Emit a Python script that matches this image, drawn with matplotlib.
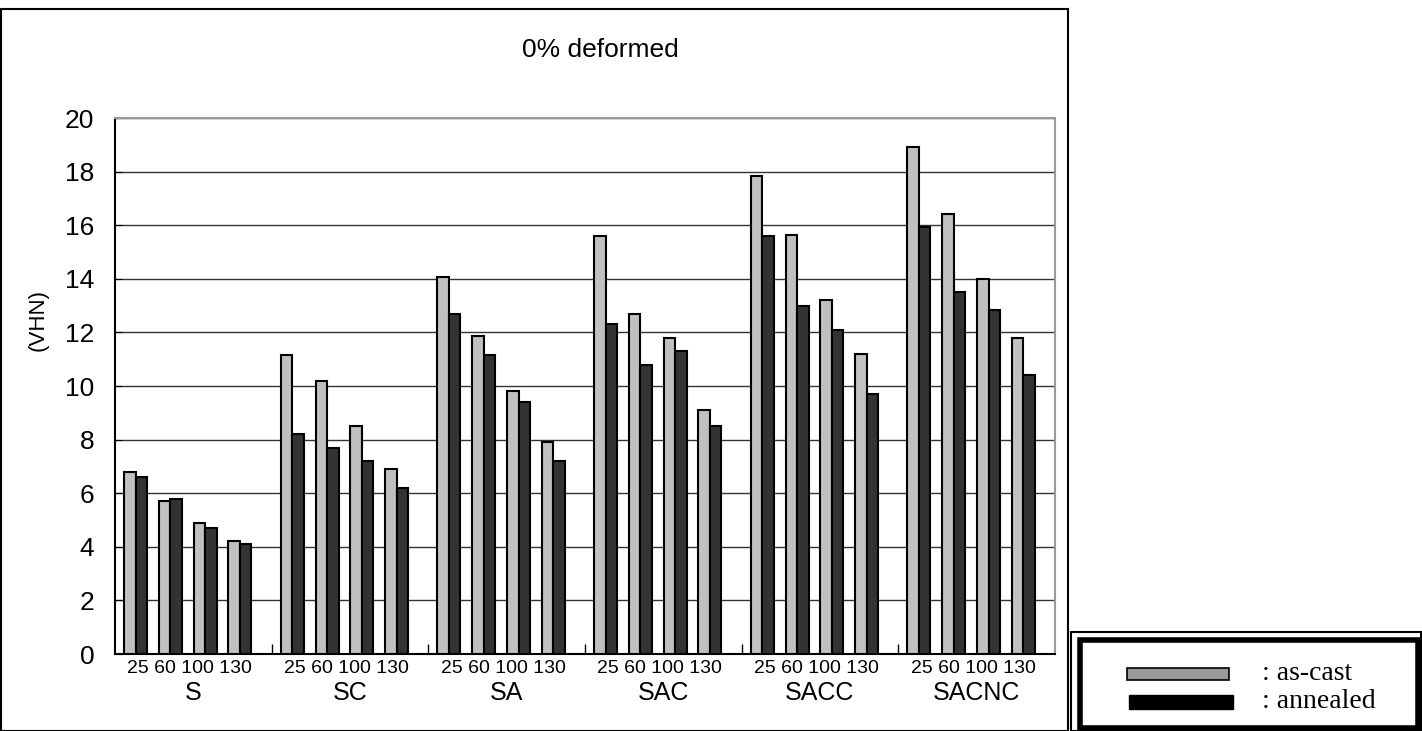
import matplotlib.pyplot as plt
from matplotlib.patches import Rectangle
import matplotlib.transforms as mtransforms
import numpy as np

# data
groups = ['S', 'SC', 'SA', 'SAC', 'SACC', 'SACNC']
temps = ['25', '60', '100', '130']
as_cast = [
    [6.8, 5.7, 4.9, 4.2],
    [11.15, 10.2, 8.5, 6.9],
    [14.05, 11.85, 9.8, 7.9],
    [15.6, 12.7, 11.8, 9.1],
    [17.85, 15.65, 13.2, 11.2],
    [18.9, 16.4, 14.0, 11.8],
]
annealed = [
    [6.6, 5.8, 4.7, 4.1],
    [8.2, 7.7, 7.2, 6.2],
    [12.7, 11.15, 9.4, 7.2],
    [12.3, 10.8, 11.3, 8.5],
    [15.6, 13.0, 12.1, 9.7],
    [15.95, 13.5, 12.85, 10.4],
]

sans = ['Liberation Sans', 'DejaVu Sans']
serif = ['Liberation Serif', 'DejaVu Serif']
plt.rcParams['font.family'] = sans

W, H = 1422, 731
fig = plt.figure(figsize=(W/100, H/100), dpi=100)
ax = fig.add_axes([115/W, 77/H, 940/W, 536/H])

gw = 4.5   # width of one group in x units
bw = 0.33
for i in range(len(groups)):
    centers = gw*i + 0.59 + np.arange(len(temps))
    ax.bar(centers - bw/2, as_cast[i], width=bw, color='#c0c0c0',
           edgecolor='black', linewidth=1.5, zorder=3)
    ax.bar(centers + bw/2, annealed[i], width=bw, color='#333333',
           edgecolor='black', linewidth=1.5, zorder=3)

ax.set_xlim(0, gw*len(groups))
ax.set_ylim(0, 20)
ax.set_yticks(np.arange(0, 21, 2))
ax.tick_params(axis='y', direction='in', length=5, labelsize=19, pad=15)
ax.set_xticks(np.arange(1, len(groups)) * gw)
ax.set_xticklabels([])
ax.tick_params(axis='x', direction='in', length=7, width=1)
ax.yaxis.grid(True, color='#333333', linewidth=1, zorder=0)
ax.set_axisbelow(True)

for s in ['left', 'bottom']:
    ax.spines[s].set_color('black')
    ax.spines[s].set_linewidth(1.5)
for s in ['top', 'right']:
    ax.spines[s].set_color('#999999')
    ax.spines[s].set_linewidth(1.5)

trans = mtransforms.blended_transform_factory(ax.transData, ax.transAxes)
for i, g in enumerate(groups):
    xc = gw*i + gw/2
    ax.text(xc - 0.1, -0.027, ' '.join(temps), transform=trans, ha='center',
            va='center', fontsize=14)
    ax.text(xc, -0.072, g, transform=trans, ha='center', va='center',
            fontsize=18)

fig.text(38/W, 1 - 320/H, '(VHN)', rotation=90, ha='center',
         va='center', fontsize=16)
fig.text(600/W, 1 - 50/H, '0% deformed', ha='center', va='center',
         fontsize=19)

# outer frame of the chart
fig.patches.append(Rectangle((1/W, 0.5/H), 1067/W, 722/H,
                             transform=fig.transFigure, fill=False,
                             edgecolor='black', linewidth=1.5))

# legend box with double border
fig.patches.append(Rectangle((1071/W, 0.5/H), 350/W, 99/H,
                             transform=fig.transFigure, fill=False,
                             edgecolor='black', linewidth=1.5))
fig.patches.append(Rectangle((1079.5/W, 3/H), 338/W, 88/H,
                             transform=fig.transFigure, fill=False,
                             edgecolor='black', linewidth=4))
fig.patches.append(Rectangle((1127/W, 1 - 680/H), 102/W, 12/H,
                             transform=fig.transFigure, facecolor='#999999',
                             edgecolor='black', linewidth=1.2))
fig.patches.append(Rectangle((1129/W, 1 - 709/H), 104/W, 14/H,
                             transform=fig.transFigure, facecolor='black',
                             edgecolor='black', linewidth=1))
fig.text(1262/W, 1 - 673/H, ': as-cast', ha='left', va='center',
         fontsize=20, family=serif)
fig.text(1262/W, 1 - 701/H, ': annealed', ha='left', va='center',
         fontsize=20, family=serif)

fig.savefig('out.png', dpi=100, facecolor='white')
